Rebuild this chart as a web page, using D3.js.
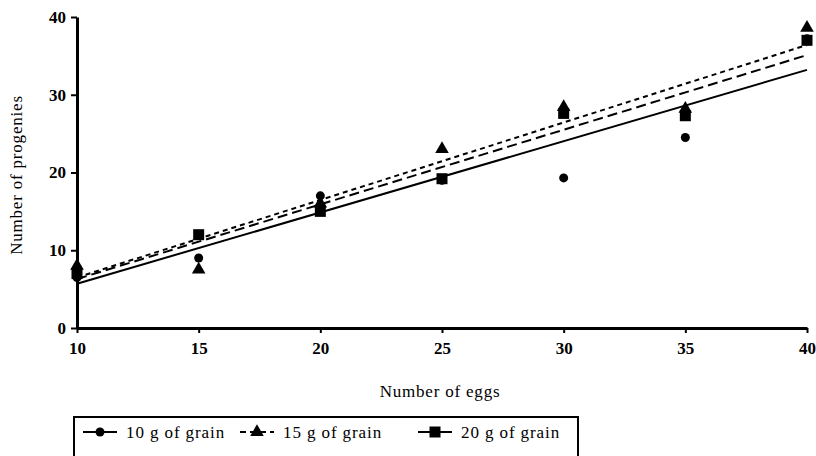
<!DOCTYPE html>
<html>
<head>
<meta charset="utf-8">
<script src="https://cdn.jsdelivr.net/npm/d3@7"></script>
<style>
  body { margin: 0; background: #fff; }
  text { font-family: "Liberation Serif", "DejaVu Serif", serif; fill: #000; }
</style>
</head>
<body>
<div id="chart"></div>
<script>
const eggs = [10, 15, 20, 25, 30, 35, 40];
const grain10 = [6.5, 9, 17, 19, 19.3, 24.5, 37.2];
const grain15 = [8, 7.5, 16, 23, 28.4, 28.2, 38.6];
const grain20 = [7, 12, 15, 19.2, 27.6, 27.3, 37];
const seriesNames = ["10 g of grain", "15 g of grain", "20 g of grain"];
// fitted lines, read at x = 10 and x = 40
const fitX = [10, 40];
const fit10 = [5.7, 33.2];
const fit15 = [6.5, 36.4];
const fit20 = [6.3, 35.1];
const yTicks = [0, 10, 20, 30, 40];
const xTicks = [10, 15, 20, 25, 30, 35, 40];

const width = 816, height = 456;

const svg = d3.select("#chart").append("svg")
    .attr("width", width)
    .attr("height", height);

const x = d3.scaleLinear().domain([10, 40]).range([77, 807]);
const y = d3.scaleLinear().domain([0, 40]).range([328, 17]);

const series = [
    { name: seriesNames[0], vals: grain10, fit: fit10, shape: "circle", dash: null },
    { name: seriesNames[1], vals: grain15, fit: fit15, shape: "triangle", dash: "5,4" },
    { name: seriesNames[2], vals: grain20, fit: fit20, shape: "square", dash: "10,5" }
];

// fit lines
const line = d3.line().x(d => x(d[0])).y(d => y(d[1]));
series.forEach(s => {
    svg.append("path")
        .datum(fitX.map((v, i) => [v, s.fit[i]]))
        .attr("d", line)
        .attr("fill", "none")
        .attr("stroke", "#000")
        .attr("stroke-width", 2)
        .attr("stroke-dasharray", s.dash);
});

function drawMarker(g, shape, cx, cy) {
    if (shape === "circle") {
        g.append("circle").attr("cx", cx).attr("cy", cy).attr("r", 4.5).attr("fill", "#000");
    } else if (shape === "triangle") {
        g.append("path")
            .attr("d", d3.symbol(d3.symbolTriangle, 80)())
            .attr("transform", `translate(${cx},${cy})`)
            .attr("fill", "#000");
    } else {
        g.append("rect").attr("x", cx - 5.5).attr("y", cy - 5.5)
            .attr("width", 11).attr("height", 11).attr("fill", "#000");
    }
}

// points
series.forEach(s => {
    const g = svg.append("g");
    s.vals.forEach((v, i) => drawMarker(g, s.shape, x(eggs[i]), y(v)));
});

// axes
const yAxis = svg.append("g")
    .attr("transform", "translate(77,0)")
    .call(d3.axisLeft(y).tickValues(yTicks).tickSize(6).tickSizeOuter(0));
const xAxis = svg.append("g")
    .attr("transform", "translate(0,328)")
    .call(d3.axisBottom(x).tickValues(xTicks).tickSize(5).tickSizeOuter(0));

[yAxis, xAxis].forEach(a => {
    a.select(".domain").attr("stroke-width", 3);
    a.selectAll(".tick line").attr("stroke-width", 2);
    a.selectAll("text")
        .style("font-family", "'Liberation Serif', serif")
        .style("font-size", "17px")
        .style("font-weight", "bold");
});
yAxis.selectAll("text").attr("x", -11);
xAxis.selectAll("text").attr("y", 14);

// axis titles
svg.append("text")
    .attr("x", 440)
    .attr("y", 397)
    .attr("text-anchor", "middle")
    .style("font-size", "17px")
    .style("letter-spacing", "0.8px")
    .text("Number of eggs");

svg.append("text")
    .attr("transform", "rotate(-90)")
    .attr("x", -175)
    .attr("y", 22)
    .attr("text-anchor", "middle")
    .style("font-size", "17px")
    .style("letter-spacing", "0.8px")
    .text("Number of progenies");

// legend
svg.append("rect")
    .attr("x", 74).attr("y", 417)
    .attr("width", 504).attr("height", 45)
    .attr("fill", "none")
    .attr("stroke", "#000")
    .attr("stroke-width", 2);

const legendX = [100, 257, 435];
series.forEach((s, i) => {
    const g = svg.append("g");
    const cx = legendX[i];
    g.append("line")
        .attr("x1", cx - 17).attr("x2", cx + 17)
        .attr("y1", 432).attr("y2", 432)
        .attr("stroke", "#000").attr("stroke-width", 2)
        .attr("stroke-dasharray", i === 1 ? "6,4" : null);
    drawMarker(g, s.shape, cx, 432);
    g.append("text")
        .attr("x", cx + 26)
        .attr("y", 438)
        .style("font-size", "17px")
        .style("letter-spacing", "0.9px")
        .text(s.name);
});
</script>
</body>
</html>
